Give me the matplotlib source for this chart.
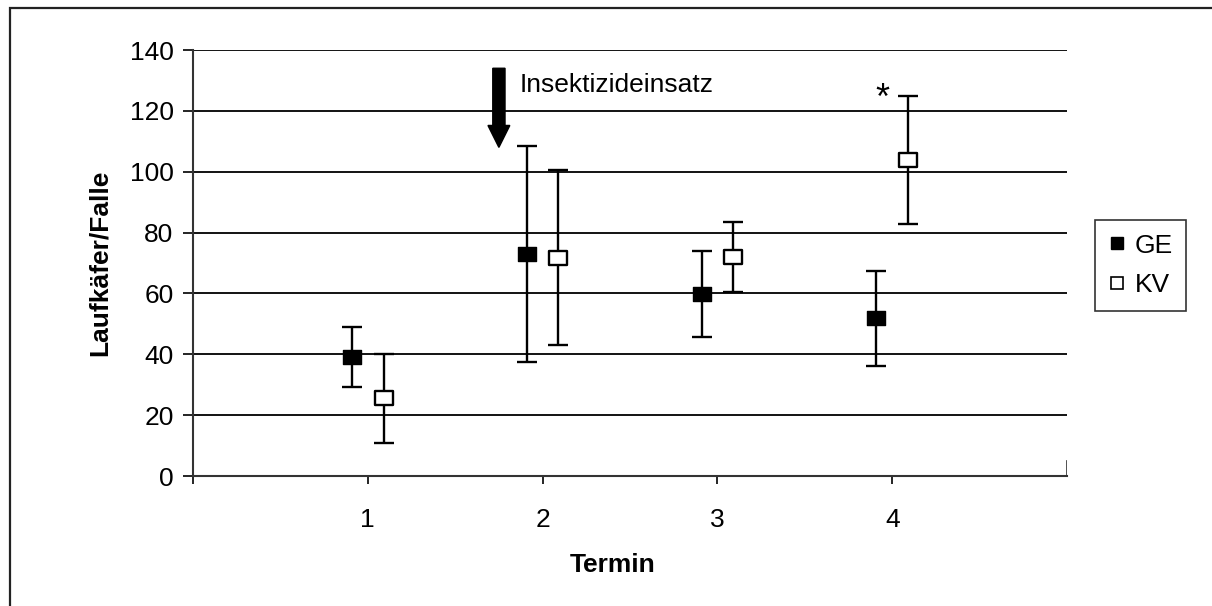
import numpy as np
import matplotlib
matplotlib.use("Agg")
import matplotlib.pyplot as plt
from matplotlib.path import Path
from matplotlib.lines import Line2D
from matplotlib.patches import Rectangle

plt.rcParams['font.family'] = ['Liberation Sans', 'DejaVu Sans']

# Laufkaefer pro Falle, Mittelwert und Fehlerbalken je Termin
termin = [1, 2, 3, 4]
ge_mean = [39.2, 73.0, 59.8, 51.8]
ge_err = [9.9, 35.5, 14.1, 15.6]
kv_mean = [25.6, 71.8, 72.0, 103.9]
kv_err = [14.6, 28.7, 11.5, 21.0]
series_labels = ["GE", "KV"]

offset = 0.09
# slightly wide rectangle marker (as in the original spreadsheet chart)
rect = Path([(-0.65, -0.5), (0.65, -0.5), (0.65, 0.5), (-0.65, 0.5), (-0.65, -0.5)],
            [Path.MOVETO, Path.LINETO, Path.LINETO, Path.LINETO, Path.CLOSEPOLY])

fig = plt.figure(figsize=(12.12, 6.06), dpi=100)
ax = fig.add_axes([193 / 1212, 1 - 476 / 606, (1067 - 193) / 1212, (476 - 50) / 606])

x = np.array(termin, dtype=float)
ax.errorbar(x - offset, ge_mean, yerr=ge_err, fmt='none', ecolor='black',
            elinewidth=1.7, capsize=7, capthick=1.7, zorder=3)
ax.errorbar(x + offset, kv_mean, yerr=kv_err, fmt='none', ecolor='black',
            elinewidth=1.7, capsize=7, capthick=1.7, zorder=3)
ax.plot(x - offset, ge_mean, linestyle='none', marker=rect, markersize=13,
        markerfacecolor='black', markeredgecolor='black', markeredgewidth=1, zorder=4)
ax.plot(x + offset, kv_mean, linestyle='none', marker=rect, markersize=12.5,
        markerfacecolor='white', markeredgecolor='black', markeredgewidth=1.7, zorder=4)

ax.set_xlim(0, 5)
ax.set_ylim(0, 140)
ax.set_yticks(np.arange(0, 141, 20))
ax.set_xticks([0, 1, 2, 3, 4])
ax.set_xticklabels(["", "1", "2", "3", "4"])
ax.yaxis.grid(True, color='black', linewidth=1.3)
ax.set_axisbelow(True)
for side in ['top', 'right']:
    ax.spines[side].set_visible(False)
for side in ['left', 'bottom']:
    ax.spines[side].set_color('#333333')
    ax.spines[side].set_linewidth(1.5)
ax.tick_params(axis='y', length=7, width=1.2, pad=7, labelsize=19)
ax.tick_params(axis='x', length=6, width=1.2, pad=17, labelsize=19)
ax.axvline(5, ymin=0, ymax=0.035, color='#333333', linewidth=1.2)

# Pfeil fuer den Insektizideinsatz
ax.arrow(1.75, 134, 0, -26, width=0.07, head_width=0.125, head_length=7.2,
         length_includes_head=True, facecolor='black', edgecolor='black', zorder=5)
ax.text(1.87, 128.5, "Insektizideinsatz", fontsize=19, ha='left', va='center')
ax.text(3.945, 123.8, "*", fontsize=26, ha='center', va='center')

fig.text(100 / 1212, 1 - 263 / 606, "Laufkäfer/Falle", rotation=90, fontsize=19,
         fontweight='bold', ha='center', va='center')
fig.text(613 / 1212, 1 - 565 / 606, "Termin", fontsize=19, fontweight='bold',
         ha='center', va='center')

handles = [
    Line2D([], [], linestyle='none', marker='s', markersize=9,
           markerfacecolor='black', markeredgecolor='black'),
    Line2D([], [], linestyle='none', marker='s', markersize=9,
           markerfacecolor='white', markeredgecolor='black', markeredgewidth=1.2),
]
leg = fig.legend(handles, series_labels, loc='center left',
                 bbox_to_anchor=(1095 / 1212, 1 - 265.5 / 606), fontsize=19,
                 frameon=True, fancybox=False, edgecolor='black',
                 handlelength=0.7, handletextpad=0.3, borderpad=0.5,
                 labelspacing=0.6, borderaxespad=0)
leg.get_frame().set_linewidth(1.2)

# Rahmen um die gesamte Grafik
fig.patches.append(Rectangle((9.5 / 1212, -0.1), 1.2, 1.1 - 7.5 / 606,
                             transform=fig.transFigure, fill=False,
                             edgecolor='#222222', linewidth=1.6))

fig.savefig("out.png", dpi=100)
